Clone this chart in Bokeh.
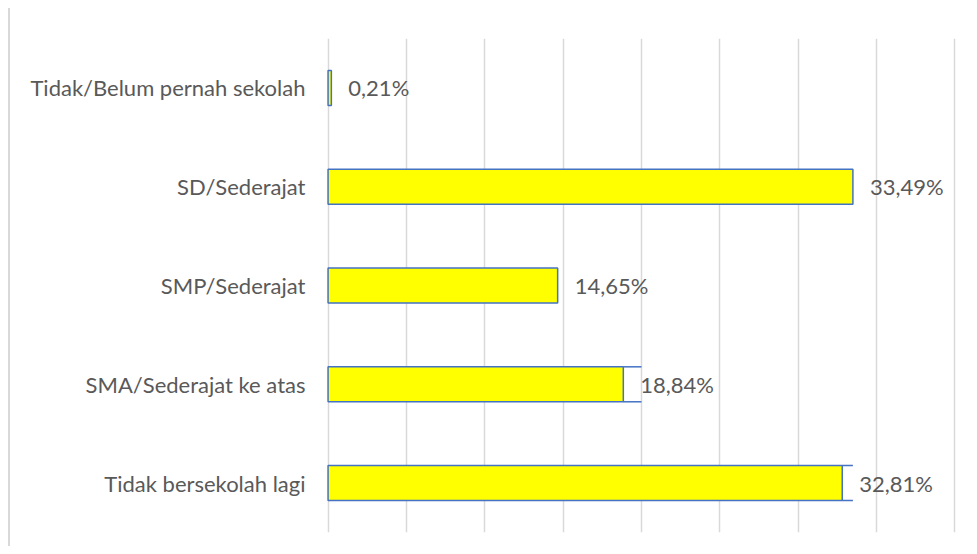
from bokeh.plotting import figure
from bokeh.models import Range1d, FactorRange, FixedTicker, Div, ColumnDataSource
from bokeh.layouts import row
from bokeh.embed import file_html
from bokeh.resources import INLINE
from bokeh.core.properties import value

# ---- data ----
categories = [
    "Tidak/Belum pernah sekolah",
    "SD/Sederajat",
    "SMP/Sederajat",
    "SMA/Sederajat ke atas",
    "Tidak bersekolah lagi",
]
percentages = [0.21, 33.49, 14.65, 18.84, 32.81]
# extra outline edges visible beyond two bars in the reference
ghost_categories = ["SMA/Sederajat ke atas", "Tidak bersekolah lagi"]
ghost_start = [18.84, 32.81]
ghost_end = [20.0, 33.49]
x_ticks = [0, 5, 10, 15, 20, 25, 30, 35, 40]

labels = [f"{v:.2f}".replace(".", ",") + "%" for v in percentages]

BAR_H = 0.354
FONT = "Lato"
TXT = "#595959"
BLUE = "#4472C4"

src = ColumnDataSource(dict(cat=categories, val=percentages, lab=labels))

p = figure(
    width=959, height=538, margin=0,
    y_range=FactorRange(factors=list(reversed(categories)), range_padding=0),
    x_range=Range1d(-0.1, 40.1),
    output_backend="svg", toolbar_location=None,
    min_border_left=316, min_border_right=13,
    min_border_top=30, min_border_bottom=14,
)
p.outline_line_color = None
p.xaxis.visible = False

p.xgrid.ticker = FixedTicker(ticks=x_ticks)
p.xgrid.grid_line_color = "#d9d9d9"
p.xgrid.grid_line_width = 1.5
p.ygrid.grid_line_color = None

p.yaxis.axis_line_color = None
p.yaxis.major_tick_line_color = None
p.yaxis.minor_tick_line_color = None
p.yaxis.major_label_standoff = 15
p.yaxis.major_label_text_font = FONT
p.yaxis.major_label_text_font_size = "22px"
p.yaxis.major_label_text_color = TXT

p.hbar(y="cat", left=0, right="val", height=BAR_H, source=src,
       fill_color="#FFFF00", line_color=BLUE, line_width=1.5)

# stray outline edges
for off in (-BAR_H / 2, BAR_H / 2):
    p.segment(x0=ghost_start, x1=ghost_end,
              y0=[(c, off) for c in ghost_categories],
              y1=[(c, off) for c in ghost_categories],
              line_color=BLUE, line_width=1.5)

p.text(x="val", y="cat", text="lab", source=src, x_offset=17,
       text_align="left", text_baseline="middle",
       text_font=value(FONT), text_font_size="22px", text_color=TXT)

border = Div(text="", width=2, height=538, margin=0,
             styles={"background-color": "#d9d9d9"})

layout = row(border, p, spacing=0, margin=(8, 0, 0, 8))

open("out.html", "w").write(file_html(layout, INLINE))
